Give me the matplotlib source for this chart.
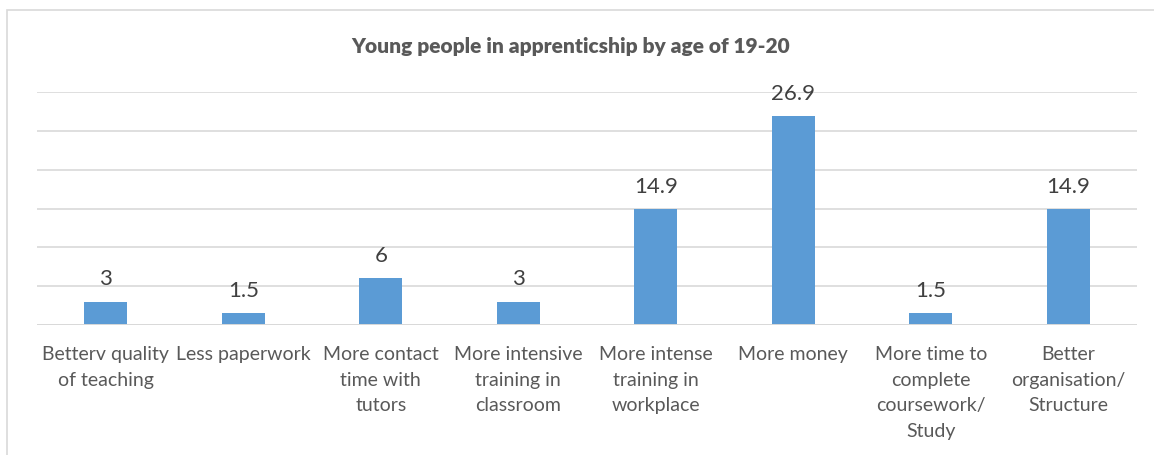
#!/usr/bin/env python3
"""Bar chart: young people in apprenticeship by age of 19-20."""

import matplotlib
matplotlib.use("Agg")
import matplotlib.pyplot as plt
from matplotlib.patches import Rectangle

categories = [
    "Betterv quality\nof teaching",
    "Less paperwork",
    "More contact\ntime with\ntutors",
    "More intensive\ntraining in\nclassroom",
    "More intense\ntraining in\nworkplace",
    "More money",
    "More time to\ncomplete\ncoursework/\nStudy",
    "Better\norganisation/\nStructure",
]
values = [3, 1.5, 6, 3, 14.9, 26.9, 1.5, 14.9]
value_labels = ["3", "1.5", "6", "3", "14.9", "26.9", "1.5", "14.9"]
y_ticks = [0, 5, 10, 15, 20, 25, 30]

BAR = "#5B9BD5"
GRID = "#D9D9D9"
TEXT = "#595959"

plt.rcParams["font.family"] = ["Lato", "DejaVu Sans"]

W, H = 1154, 455
fig = plt.figure(figsize=(W / 100, H / 100), dpi=100)
fig.patches.append(Rectangle((7 / W, -0.1), 1.2, (H - 10) / H + 0.1,
                             transform=fig.transFigure, fill=False,
                             edgecolor=GRID, linewidth=1.2))

ax = fig.add_axes([37 / W, 130 / H, 1100 / W, 233 / H])
x = range(len(categories))
ax.bar(x, values, width=0.31, color=BAR, zorder=3)
ax.set_xlim(-0.5, len(categories) - 0.5)
ax.set_ylim(0, 30)
ax.set_yticks(y_ticks)
ax.set_yticklabels([])
ax.tick_params(axis="y", length=0)
ax.grid(axis="y", color=GRID, linewidth=1.2, zorder=0)
for side in ("top", "right", "left", "bottom"):
    ax.spines[side].set_visible(False)
ax.axhline(0, color=GRID, linewidth=1.4, zorder=4)

ax.set_xticks(list(x))
ax.set_xticklabels(categories, fontsize=14, color=TEXT, linespacing=1.62)
ax.tick_params(axis="x", length=0, pad=15)

for xi, v, lab in zip(x, values, value_labels):
    ax.annotate(lab, (xi, v), xytext=(0, 9), textcoords="offset points",
                ha="center", va="bottom", fontsize=16, color="#404040")

fig.text(571 / W, 1 - 46 / H, "Young people in apprenticship by age of 19-20",
         ha="center", va="center", fontsize=15, fontweight="heavy", color=TEXT)

fig.savefig("out.png", dpi=100)
print("wrote out.png")
